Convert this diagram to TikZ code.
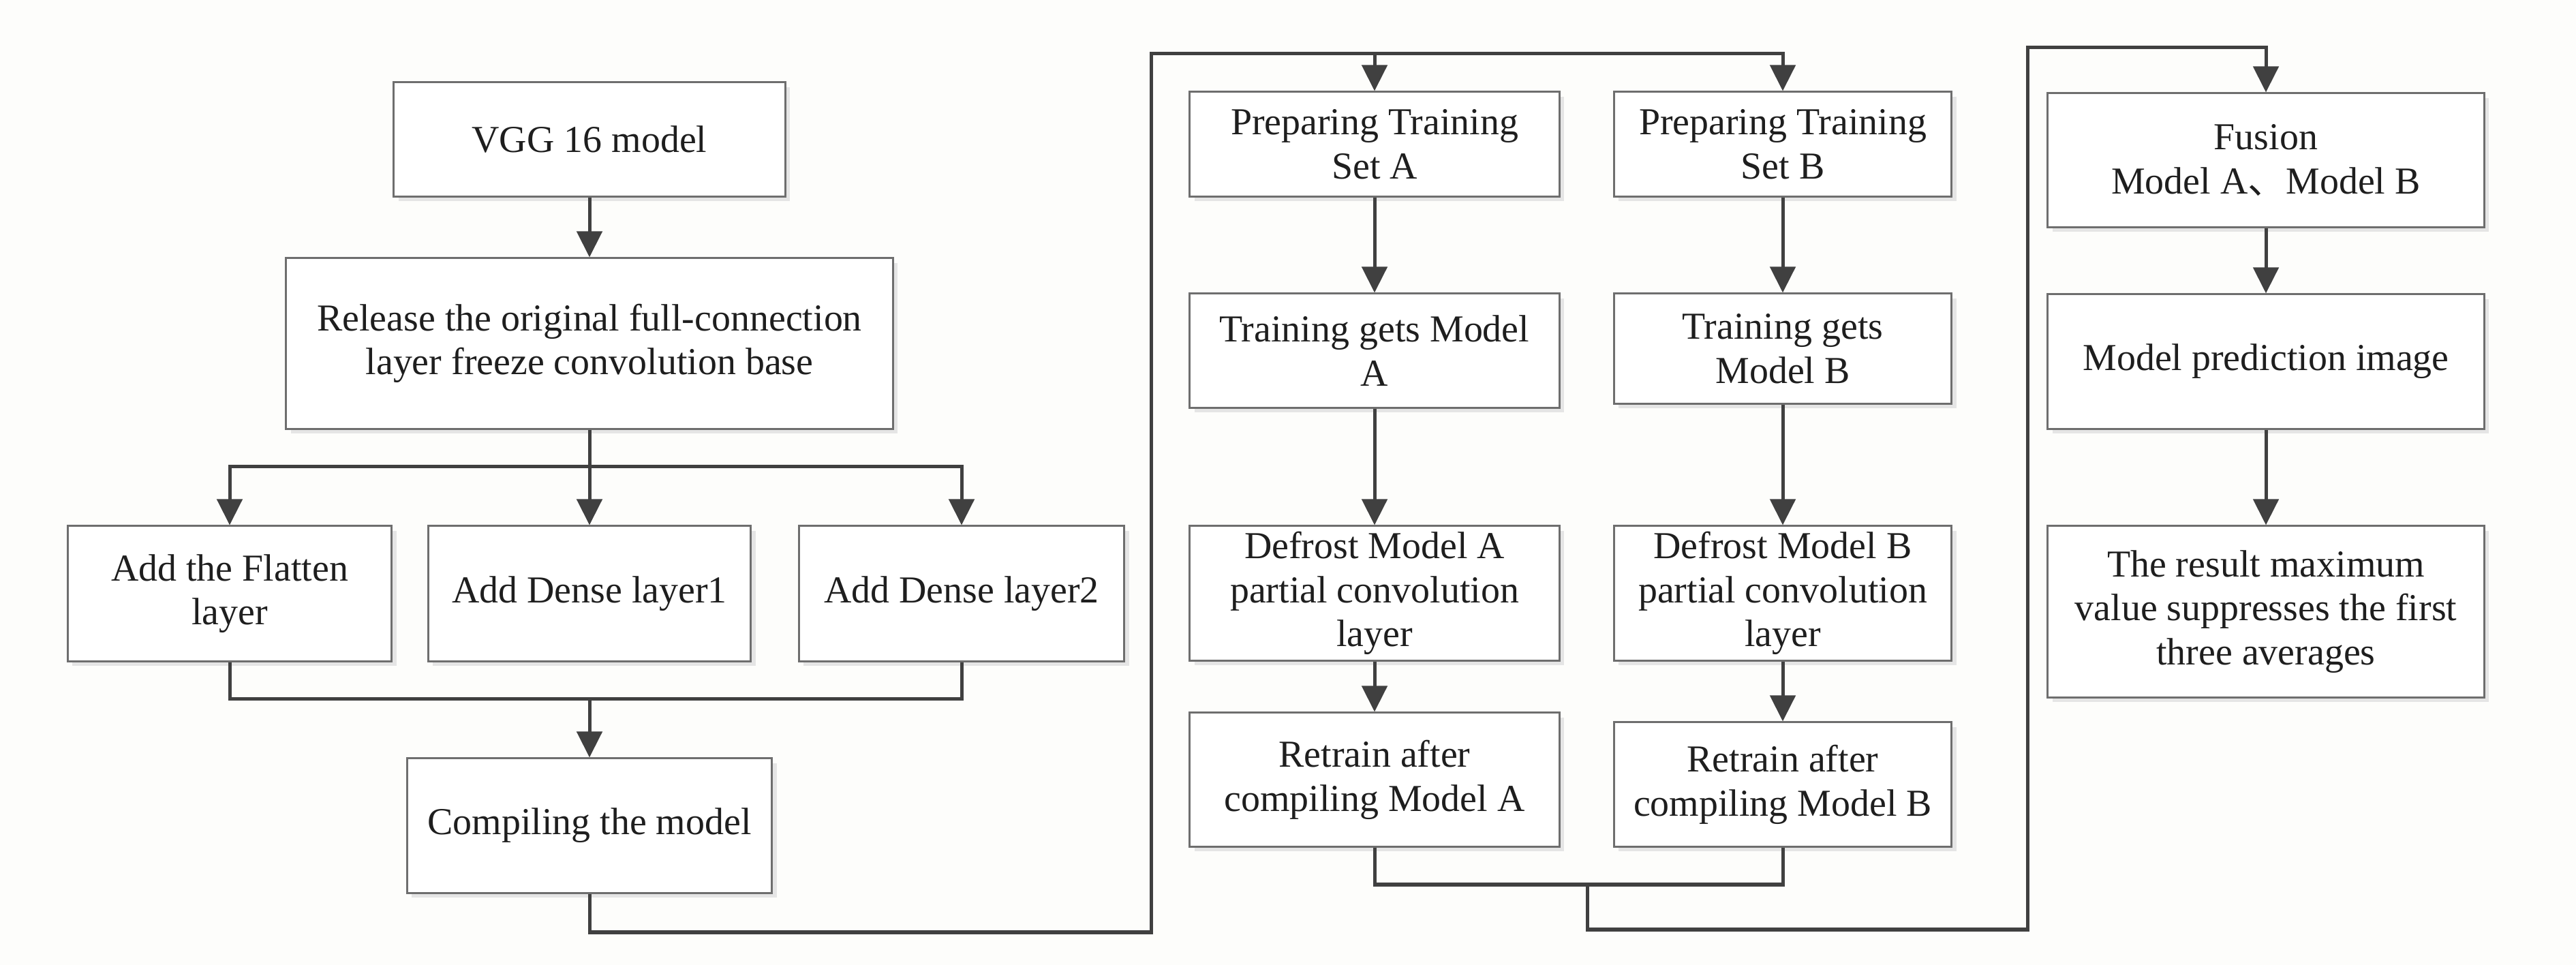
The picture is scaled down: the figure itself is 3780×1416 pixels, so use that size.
\documentclass[tikz,border=0pt]{standalone}
\usepackage{fontspec}
\setmainfont{Liberation Serif}
\newfontfamily\cjkf{Noto Sans CJK SC}
\usetikzlibrary{arrows.meta,shadows}
\definecolor{bgc}{HTML}{FDFDFB}
\definecolor{linec}{HTML}{404040}
\definecolor{boxc}{HTML}{6E6E6E}
\definecolor{txtc}{HTML}{1E1E1E}
\begin{document}
\begin{tikzpicture}[x=0.01cm,y=-0.01cm,
  box/.style={draw=boxc,line width=0.03cm,fill=white,align=center,inner sep=0pt,
    text=txtc,font=\fontsize{15.9}{18.4}\selectfont,
    drop shadow={shadow xshift=0.07cm,shadow yshift=-0.07cm,fill=black!10,opacity=1}},
  conn/.style={draw=linec,line width=0.05cm},
  arr/.style={conn,-{Triangle[length=0.38cm,width=0.37cm]}}]
\fill[bgc] (0,0) rectangle (3780,1416);
\useasboundingbox (0,0) rectangle (3780,1416);

% left column
\node[box,minimum width=5.74cm,minimum height=1.67cm] (vgg) at (865,204.5) {VGG 16 model};
\node[box,minimum width=8.90cm,minimum height=2.50cm] (rel) at (865,504) {Release the original full-connection\\layer freeze convolution base};
\node[box,minimum width=4.75cm,minimum height=1.98cm] (fl) at (337,871) {Add the Flatten\\layer};
\node[box,minimum width=4.73cm,minimum height=1.98cm] (d1) at (865,871) {Add Dense layer1};
\node[box,minimum width=4.77cm,minimum height=1.98cm] (d2) at (1411,871) {Add Dense layer2};
\node[box,minimum width=5.35cm,minimum height=1.97cm] (cm) at (865,1211.5) {Compiling the model};

% middle columns
\node[box,minimum width=5.42cm,minimum height=1.53cm] (a1) at (2017,211.5) {Preparing Training\\Set A};
\node[box,minimum width=4.95cm,minimum height=1.53cm] (b1) at (2616,211.5) {Preparing Training\\Set B};
\node[box,minimum width=5.42cm,minimum height=1.67cm] (a2) at (2017,514.5) {Training gets Model\\A};
\node[box,minimum width=4.95cm,minimum height=1.61cm] (b2) at (2616,511.5) {Training gets\\Model B};
\node[box,minimum width=5.42cm,minimum height=1.97cm] (a3) at (2017,870.5) {Defrost Model A\\partial convolution\\layer};
\node[box,minimum width=4.95cm,minimum height=1.97cm] (b3) at (2616,870.5) {Defrost Model B\\partial convolution\\layer};
\node[box,minimum width=5.42cm,minimum height=1.96cm] (a4) at (2017,1144) {Retrain after\\compiling Model A};
\node[box,minimum width=4.95cm,minimum height=1.82cm] (b4) at (2616,1151) {Retrain after\\compiling Model B};

% right column
\node[box,minimum width=6.40cm,minimum height=1.96cm] (f1) at (3325,235) {Fusion\\Model A{\cjkf 、}Model B};
\node[box,minimum width=6.40cm,minimum height=1.97cm] (f2) at (3325,530.5) {Model prediction image};
\node[box,minimum width=6.40cm,minimum height=2.51cm] (f3) at (3325,897.5) {The result maximum\\value suppresses the first\\three averages};

% helper coordinates
\coordinate (br) at (865,685);
\coordinate (mg) at (865,1026);
\coordinate (c1) at (1689,1368);
\coordinate (c2) at (1689,79);
\coordinate (tA) at (2017,79);
\coordinate (m2) at (2329,1298);
\coordinate (c3) at (2329,1364);
\coordinate (c4) at (2975,1364);
\coordinate (c5) at (2975,70);

% connectors left
\draw[arr] (vgg.south) -- (rel.north);
\draw[conn] (rel.south) -- (br);
\draw[arr] (br) -| (fl.north);
\draw[arr] (br) -- (d1.north);
\draw[arr] (br) -| (d2.north);
\draw[conn] (fl.south) |- (mg) -| (d2.south);
\draw[arr] (mg) -- (cm.north);

% to middle
\draw[arr] (cm.south) |- (c1) -- (c2) -| (b1.north);
\draw[arr] (tA) -- (a1.north);
\draw[arr] (a1) -- (a2);
\draw[arr] (a2) -- (a3);
\draw[arr] (a3) -- (a4);
\draw[arr] (b1) -- (b2);
\draw[arr] (b2) -- (b3);
\draw[arr] (b3) -- (b4);
\draw[conn] (a4.south) |- (m2) -| (b4.south);

% to right
\draw[arr] (m2) -- (c3) -- (c4) -- (c5) -| (f1.north);
\draw[arr] (f1) -- (f2);
\draw[arr] (f2) -- (f3);
\end{tikzpicture}
\end{document}
